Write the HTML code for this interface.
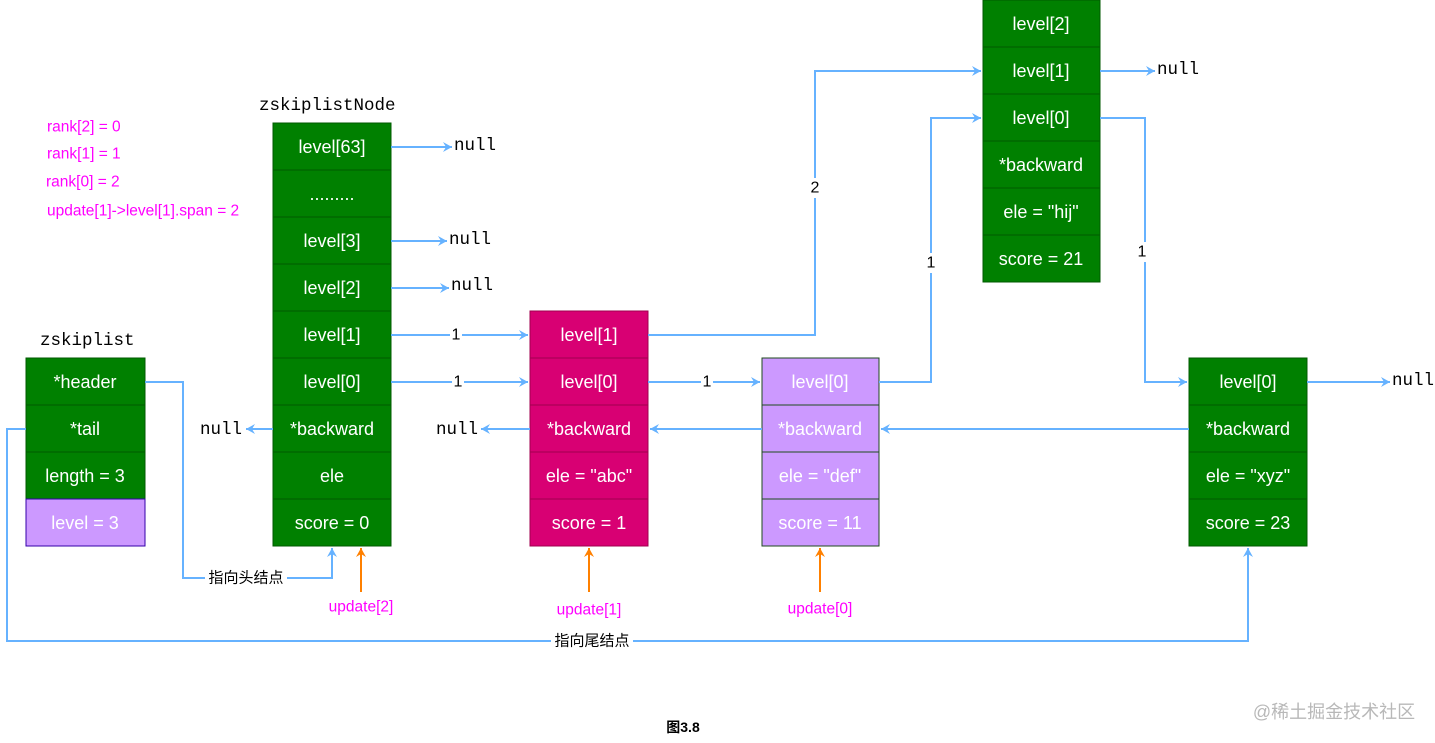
<!DOCTYPE html>
<html><head><meta charset="utf-8"><style>
html,body{margin:0;padding:0;background:#fff;width:1435px;height:743px;overflow:hidden}
svg text{font-family:"Liberation Sans","Noto Sans CJK SC",sans-serif}
.w{fill:#fff;font-size:18px;text-anchor:middle;dominant-baseline:central}
.m{font-family:"Liberation Mono",monospace !important;font-size:17.5px;fill:#000;dominant-baseline:central}
.pk{fill:#ff00ff;font-size:15.5px;dominant-baseline:central}
.ln{fill:none;stroke:#66b2ff;stroke-width:2}
.lab{font-size:16px;fill:#000;text-anchor:middle;dominant-baseline:central}
</style></head><body>
<svg width="1435" height="743" viewBox="0 0 1435 743" xmlns="http://www.w3.org/2000/svg">
<defs>
<marker id="a" markerWidth="12" markerHeight="12" refX="10" refY="6" orient="auto" markerUnits="userSpaceOnUse">
<path d="M1,1 L10,6 L1,11 L4,6 Z" fill="#66b2ff"/></marker>
<marker id="o" markerWidth="12" markerHeight="12" refX="10" refY="6" orient="auto" markerUnits="userSpaceOnUse">
<path d="M1,1 L10,6 L1,11 L4,6 Z" fill="#ff8000"/></marker>
</defs>

<text x="40" y="341" class="m">zskiplist</text>
<g stroke="#005a00" stroke-width="1">
<rect x="26" y="358" width="119" height="47" fill="#008000"/>
<rect x="26" y="405" width="119" height="47" fill="#008000"/>
<rect x="26" y="452" width="119" height="47" fill="#008000"/>
</g>
<rect x="26" y="499" width="119" height="47" fill="#cc99ff" stroke="#3300aa" stroke-width="1"/>
<text x="85" y="382" class="w">*header</text>
<text x="85" y="429" class="w">*tail</text>
<text x="85" y="476" class="w">length = 3</text>
<text x="85" y="523" class="w">level = 3</text>

<text x="259" y="106" class="m">zskiplistNode</text>
<g stroke="#005a00" stroke-width="1" fill="#008000">
<rect x="273" y="123" width="118" height="47"/><rect x="273" y="170" width="118" height="47"/>
<rect x="273" y="217" width="118" height="47"/><rect x="273" y="264" width="118" height="47"/>
<rect x="273" y="311" width="118" height="47"/><rect x="273" y="358" width="118" height="47"/>
<rect x="273" y="405" width="118" height="47"/><rect x="273" y="452" width="118" height="47"/>
<rect x="273" y="499" width="118" height="47"/>
</g>
<text x="332" y="147" class="w">level[63]</text>
<text x="332" y="194" class="w">.........</text>
<text x="332" y="241" class="w">level[3]</text>
<text x="332" y="288" class="w">level[2]</text>
<text x="332" y="335" class="w">level[1]</text>
<text x="332" y="382" class="w">level[0]</text>
<text x="332" y="429" class="w">*backward</text>
<text x="332" y="476" class="w">ele</text>
<text x="332" y="523" class="w">score = 0</text>

<g stroke="#a0004f" stroke-width="1" fill="#d80073">
<rect x="530" y="311" width="118" height="47"/><rect x="530" y="358" width="118" height="47"/>
<rect x="530" y="405" width="118" height="47"/><rect x="530" y="452" width="118" height="47"/>
<rect x="530" y="499" width="118" height="47"/>
</g>
<text x="589" y="335" class="w">level[1]</text>
<text x="589" y="382" class="w">level[0]</text>
<text x="589" y="429" class="w">*backward</text>
<text x="589" y="476" class="w">ele = "abc"</text>
<text x="589" y="523" class="w">score = 1</text>

<g stroke="#1f4a1f" stroke-width="1" fill="#cc99ff">
<rect x="762" y="358" width="117" height="47"/><rect x="762" y="405" width="117" height="47"/>
<rect x="762" y="452" width="117" height="47"/><rect x="762" y="499" width="117" height="47"/>
</g>
<text x="820" y="382" class="w">level[0]</text>
<text x="820" y="429" class="w">*backward</text>
<text x="820" y="476" class="w">ele = "def"</text>
<text x="820" y="523" class="w">score = 11</text>

<g stroke="#005a00" stroke-width="1" fill="#008000">
<rect x="983" y="0" width="117" height="47"/><rect x="983" y="47" width="117" height="47"/>
<rect x="983" y="94" width="117" height="47"/><rect x="983" y="141" width="117" height="47"/>
<rect x="983" y="188" width="117" height="47"/><rect x="983" y="235" width="117" height="47"/>
</g>
<text x="1041" y="24" class="w">level[2]</text>
<text x="1041" y="71" class="w">level[1]</text>
<text x="1041" y="118" class="w">level[0]</text>
<text x="1041" y="165" class="w">*backward</text>
<text x="1041" y="212" class="w">ele = "hij"</text>
<text x="1041" y="259" class="w">score = 21</text>

<g stroke="#005a00" stroke-width="1" fill="#008000">
<rect x="1189" y="358" width="118" height="47"/><rect x="1189" y="405" width="118" height="47"/>
<rect x="1189" y="452" width="118" height="47"/><rect x="1189" y="499" width="118" height="47"/>
</g>
<text x="1248" y="382" class="w">level[0]</text>
<text x="1248" y="429" class="w">*backward</text>
<text x="1248" y="476" class="w">ele = "xyz"</text>
<text x="1248" y="523" class="w">score = 23</text>

<path class="ln" d="M145,382 H183 V578 H332 V548" marker-end="url(#a)"/>
<path class="ln" d="M26,429 H7 V641 H1248 V548" marker-end="url(#a)"/>
<path class="ln" d="M391,147 H452" marker-end="url(#a)"/>
<path class="ln" d="M391,241 H447" marker-end="url(#a)"/>
<path class="ln" d="M391,288 H449" marker-end="url(#a)"/>
<path class="ln" d="M391,335 H528" marker-end="url(#a)"/>
<path class="ln" d="M391,382 H528" marker-end="url(#a)"/>
<path class="ln" d="M273,429 H246" marker-end="url(#a)"/>
<path class="ln" d="M648,335 H815 V71 H981" marker-end="url(#a)"/>
<path class="ln" d="M648,382 H760" marker-end="url(#a)"/>
<path class="ln" d="M530,429 H481" marker-end="url(#a)"/>
<path class="ln" d="M762,429 H650" marker-end="url(#a)"/>
<path class="ln" d="M879,382 H931 V118 H981" marker-end="url(#a)"/>
<path class="ln" d="M1100,71 H1155" marker-end="url(#a)"/>
<path class="ln" d="M1100,118 H1145 V382 H1187" marker-end="url(#a)"/>
<path class="ln" d="M1307,382 H1390" marker-end="url(#a)"/>
<path class="ln" d="M1189,429 H881" marker-end="url(#a)"/>

<path d="M361,592 V548" stroke="#ff8000" stroke-width="2" fill="none" marker-end="url(#o)"/>
<path d="M589,592 V548" stroke="#ff8000" stroke-width="2" fill="none" marker-end="url(#o)"/>
<path d="M820,592 V548" stroke="#ff8000" stroke-width="2" fill="none" marker-end="url(#o)"/>

<rect x="450" y="326" width="12" height="18" fill="#fff"/><text x="456" y="335" class="lab">1</text>
<rect x="452" y="373" width="12" height="18" fill="#fff"/><text x="458" y="382" class="lab">1</text>
<rect x="701" y="373" width="12" height="18" fill="#fff"/><text x="707" y="382" class="lab">1</text>
<rect x="809" y="178" width="12" height="20" fill="#fff"/><text x="815" y="188" class="lab">2</text>
<rect x="925" y="253" width="12" height="20" fill="#fff"/><text x="931" y="263" class="lab">1</text>
<rect x="1136" y="242" width="12" height="20" fill="#fff"/><text x="1142" y="252" class="lab">1</text>
<rect x="205" y="569" width="82" height="18" fill="#fff"/><text x="246" y="578" class="lab" style="font-size:15px">指向头结点</text>
<rect x="551" y="632" width="82" height="18" fill="#fff"/><text x="592" y="641" class="lab" style="font-size:15px">指向尾结点</text>

<text x="454" y="146" class="m">null</text>
<text x="449" y="240" class="m">null</text>
<text x="451" y="286" class="m">null</text>
<text x="200" y="430" class="m">null</text>
<text x="436" y="430" class="m">null</text>
<text x="1157" y="70" class="m">null</text>
<text x="1392" y="381" class="m">null</text>

<text x="47" y="127" class="pk">rank[2] = 0</text>
<text x="47" y="154" class="pk">rank[1] = 1</text>
<text x="46" y="182" class="pk">rank[0] = 2</text>
<text x="47" y="211" class="pk">update[1]-&gt;level[1].span = 2</text>
<text x="361" y="607" class="pk" text-anchor="middle">update[2]</text>
<text x="589" y="610" class="pk" text-anchor="middle">update[1]</text>
<text x="820" y="609" class="pk" text-anchor="middle">update[0]</text>

<text x="683" y="727" style="font-size:14px;font-weight:bold" text-anchor="middle" dominant-baseline="central">图3.8</text>
<text x="1334" y="712" style="font-size:18px;fill:#b8b8b8" text-anchor="middle" dominant-baseline="central">@稀土掘金技术社区</text>
</svg>
</body></html>
